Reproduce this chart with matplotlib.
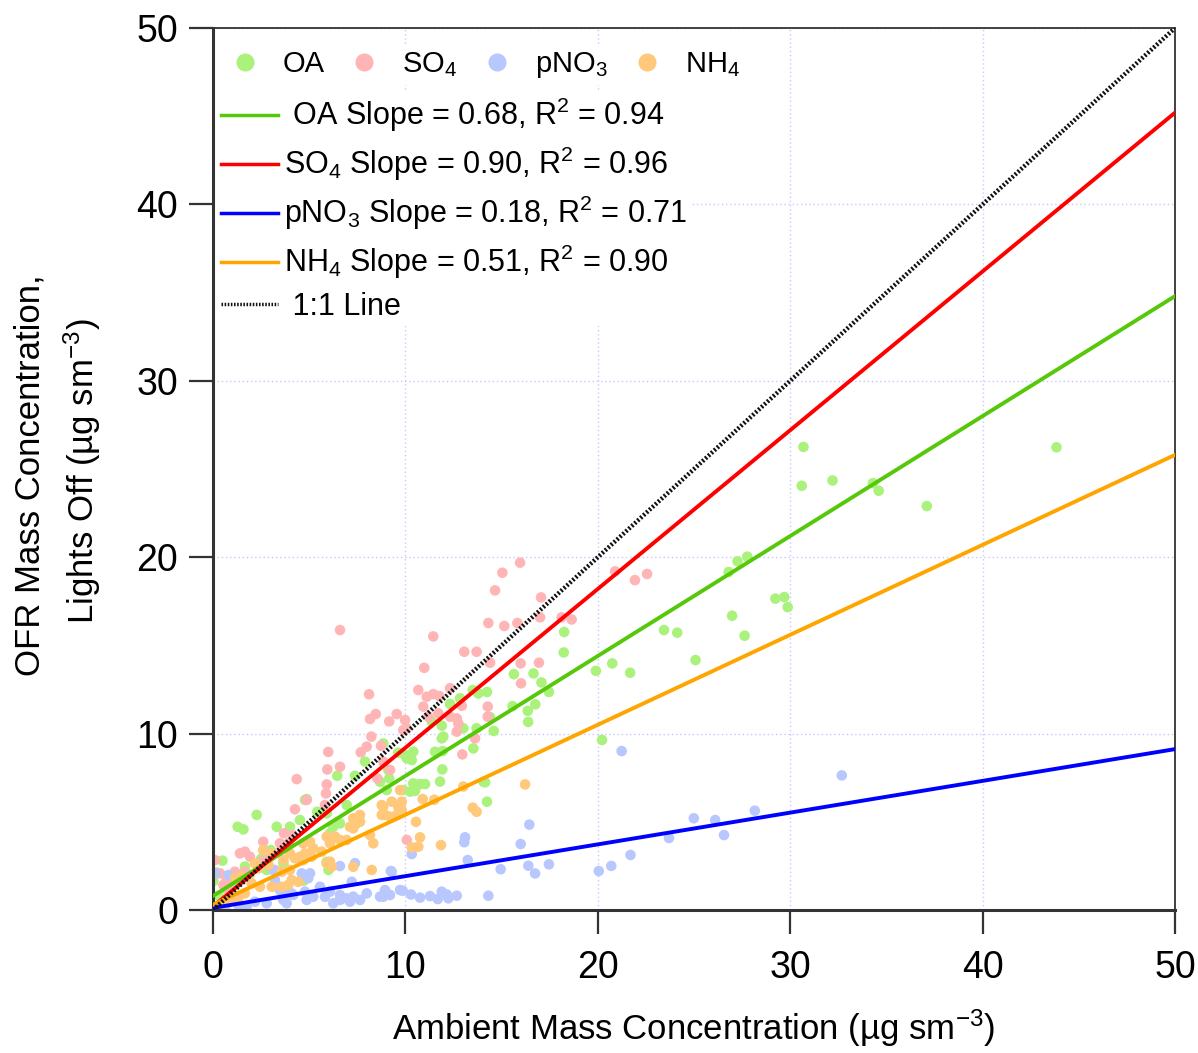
import numpy as np
import matplotlib
matplotlib.use('Agg')
import matplotlib.pyplot as plt
from matplotlib.lines import Line2D

plt.rcParams['font.family'] = ['Liberation Sans', 'DejaVu Sans']
plt.rcParams['mathtext.fontset'] = 'custom'
plt.rcParams['mathtext.rm'] = 'Liberation Sans'
plt.rcParams['mathtext.it'] = 'Liberation Sans:italic'
plt.rcParams['mathtext.bf'] = 'Liberation Sans:bold'

# ambient (x) vs OFR lights off (y), ug/m3
oa_x = [43.84, 30.69, 30.6, 32.2, 34.3, 34.6, 37.1, 26.8, 27.26, 27.77, 29.23, 29.69, 29.87,
	26.98, 27.63, 23.44, 24.13, 25.08, 18.25, 18.23, 19.9, 20.75, 21.68, 20.22, 15.64, 16.66,
	17.07, 17.46, 14.24, 14.39, 14.59, 15.57, 16.36, 16.38, 16.75, 14.06, 14.24, 13.79, 13.5,
	12.32, 12.84, 13.01, 13.7, 11.89, 11.37, 11.97, 11.89, 11.54, 11.94, 13.53, 10.07, 10.33,
	11.8, 11.92, 10.41, 10.76, 11.02, 10.24, 10.5, 14.14, 9.98, 8.85, 9.16, 8.68, 7.9, 7.38,
	6.46, 9.11, 9.89, 9.03, 4.87, 5.42, 5.91, 2.27, 1.28, 1.58, 3.31, 4.0, 4.78, 6.95, 7.47,
	6.25, 6.6, 6.08, 4.52, 3.66, 1.66, 0.49, 0.19, 0.02, 4.71, 5.91, 6.0, 2.79, 3.66, 9.63,
	10.41, 3.0, 2.5, 1.9, 1.2, 0.7, 0.3]
oa_y = [26.23, 26.25, 24.05, 24.35, 24.2, 23.77, 22.9, 19.16, 19.77, 20.03, 17.65, 17.74, 17.17,
	16.68, 15.55, 15.87, 15.72, 14.17, 15.76, 14.6, 13.56, 13.98, 13.45, 9.64, 13.37, 13.41,
	12.9, 12.36, 12.36, 10.94, 10.15, 11.56, 11.29, 10.66, 11.66, 7.27, 6.14, 12.28, 12.47,
	11.68, 12.0, 10.3, 10.3, 10.45, 10.68, 9.83, 9.73, 8.97, 9.01, 9.16, 8.6, 8.5,
	7.28, 7.97, 7.18, 7.14, 7.14, 6.71, 6.75, 7.24, 8.79, 9.44, 7.46, 7.27, 8.41, 7.61,
	7.61, 7.94, 6.8, 6.8, 6.29, 5.57, 5.48, 5.39, 4.72, 4.57, 4.72, 4.72, 6.24, 5.95, 4.91,
	4.72, 4.91, 4.35, 5.1, 3.5, 2.46, 2.8, 2.12, 1.64, 1.66, 2.73, 2.27, 2.27, 2.65, 8.92,
	8.98, 3.4, 2.9, 2.0, 1.5, 1.2, 0.8]

so4_x = [15.96, 15.04, 14.66, 17.05, 6.6, 11.45, 14.31, 15.14, 15.82, 17.0, 18.12, 18.64, 13.06,
	13.7, 10.98, 14.4, 15.99, 16.94, 16.01, 20.9, 21.93, 22.56, 10.67, 11.11, 11.45, 11.76,
	12.32, 10.93, 11.19, 11.71, 12.32, 12.67, 12.75, 12.67, 14.28, 14.28, 9.98, 10.07, 12.93,
	13.62, 12.96, 8.11, 8.16, 8.46, 9.55, 9.16, 9.89, 8.23, 7.68, 7.99, 8.73, 5.99, 5.94, 6.6,
	5.91, 5.87, 8.54, 8.85, 9.2, 4.35, 4.26, 4.87, 5.82, 10.07, 3.69, 4.14, 3.48, 3.91, 1.4,
	1.66, 0.1, 2.61, 1.14, 1.66, 3.22, 0.54, 0.8, 3.45, 0.36, 0.71, 1.92, 2.53, 2.96]
so4_y = [19.69, 19.12, 18.12, 17.72, 15.87, 15.51, 16.27, 16.1, 16.27, 16.59, 16.59, 16.47, 14.64,
	14.64, 13.73, 14.02, 13.98, 14.02, 12.85, 19.2, 18.7, 19.05, 12.47, 12.09, 12.24, 12.13,
	12.57, 11.53, 10.96, 11.15, 10.96, 10.86, 10.58, 10.11, 11.53, 10.96, 10.77, 10.3, 11.58,
	9.73, 8.82, 12.23, 10.83, 11.11, 11.11, 10.69, 10.2, 9.83, 8.94, 9.26, 9.31, 8.96, 7.97, 8.12,
	7.12, 6.61, 7.46, 8.41, 7.94, 7.42, 5.71, 6.24, 5.95, 3.97, 4.35, 4.25, 3.78, 3.78, 3.21,
	3.31, 2.83, 3.87, 2.17, 2.17, 2.27, 1.42, 1.13, 1.23, 2.08, 1.7, 3.02, 2.74, 3.02]

pno3_x = [21.24, 32.68, 28.16, 24.99, 26.1, 26.56, 23.7, 21.7, 20.7, 20.05, 16.44, 15.99, 13.1,
	13.06, 13.24, 10.33, 14.95, 16.39, 16.74, 17.46, 9.86, 10.29, 10.76, 11.28, 11.68, 11.89,
	12.15, 12.23, 12.67, 14.31, 9.03, 8.68, 7.99, 7.64, 7.12, 6.6, 6.25, 7.29, 6.95, 9.29, 7.38,
	6.6, 5.04, 4.69, 5.56, 6.08, 5.82, 6.6, 7.21, 9.24, 9.72, 8.85, 8.94, 9.2, 5.21, 4.87, 4.17,
	4.78, 3.65, 3.83, 2.18, 2.79, 1.32, 1.75, 0.62, 3.22, 3.48, 4.61, 4.95, 0.1, 0.8, 3.13,
	3.66, 3.31, 4.09]
pno3_y = [9.01, 7.63, 5.63, 5.2, 5.1, 4.25, 4.08, 3.12, 2.5, 2.21, 4.84, 3.74, 4.12,
	3.84, 2.83, 3.17, 2.31, 2.51, 2.07, 2.59, 1.09, 0.88, 0.7, 0.79, 0.62, 1.04,
	0.88, 0.66, 0.81, 0.81, 0.94, 0.76, 0.94, 0.57, 0.47, 0.57, 0.38, 0.76, 0.66, 2.17, 2.65,
	2.49, 2.08, 1.98, 1.32, 1.04, 0.75, 0.85, 1.6, 2.21, 1.13, 0.75, 1.13, 0.85, 0.75, 0.57, 0.85,
	1.04, 0.57, 0.38, 0.47, 0.38, 0.28, 0.19, 0.1, 1.7, 1.13, 2.08, 1.8, 2.08, 1.98, 2.27,
	1.13, 1.32, 0.94]

nh4_x = [16.22, 13.5, 13.7, 13.01, 10.9, 11.5, 10.55, 10.76, 10.33, 10.67, 11.85, 9.81, 9.81,
	9.72, 9.63, 8.85, 8.77, 9.2, 9.55, 8.77, 9.29, 8.94, 7.64, 7.29, 7.12, 7.29, 8.16, 5.91,
	6.25, 6.6, 6.08, 5.04, 5.21, 4.78, 5.13, 5.65, 6.17, 7.29, 8.25, 7.64, 8.33, 6.34, 6.95,
	4.69, 4.52, 4.0, 3.66, 2.61, 3.05, 2.88, 3.57, 4.0, 4.09, 1.66, 1.32, 0.88, 0.54, 0.19,
	0.0, 4.26, 4.69, 5.04, 2.18, 2.36, 1.14, 1.49, 2.01, 2.44, 3.05, 3.57, 3.91, 4.43, 5.9, 6.08]
nh4_y = [7.12, 5.8, 5.57, 7.0, 6.29, 6.25, 5.0, 4.12, 3.55, 3.59, 3.68, 6.14, 5.67,
	6.8, 5.86, 5.86, 5.39, 5.29, 5.39, 5.95, 6.14, 5.39, 5.39, 5.2, 4.72, 4.63, 4.25, 4.16,
	4.06, 3.97, 3.78, 3.87, 3.5, 3.21, 3.02, 3.31, 2.45, 2.45, 2.27, 5.0, 3.78, 4.16, 3.97,
	3.78, 3.02, 3.21, 2.83, 3.4, 3.21, 2.55, 2.17, 2.27, 1.7, 0.95, 0.72, 0.57, 0.38, 0.19,
	0.1, 2.93, 2.83, 3.12, 2.64, 2.36, 1.8, 1.89, 1.51, 1.32, 1.32, 1.32, 1.42, 1.6, 2.65, 2.74]

species = ['OA', 'SO$_4$', 'pNO$_3$', 'NH$_4$']
slopes = [0.68, 0.90, 0.18, 0.51]
intercepts = [0.8, 0.2, 0.12, 0.3]
r2 = [0.94, 0.96, 0.71, 0.90]
dot_colors = ['#aaf27c', '#ffb5b5', '#b8c8ff', '#ffc87a']
line_colors = ['#55c80a', '#ff0000', '#0000ff', '#ffa500']

fig = plt.figure(figsize=(11.98, 10.53), dpi=100)
ax = fig.add_axes([0.1778, 0.1358, 0.803, 0.8376])

ax.set_xlim(0, 50)
ax.set_ylim(0, 50)
ax.set_xticks([0, 10, 20, 30, 40, 50])
ax.set_yticks([0, 10, 20, 30, 40, 50])
ax.grid(True, color='#c8c8ff', linestyle=(0, (1, 2)), linewidth=1.0)
ax.set_axisbelow(True)

xs = [oa_x, so4_x, pno3_x, nh4_x]
ys = [oa_y, so4_y, pno3_y, nh4_y]
for i in range(4):
	ax.scatter(xs[i], ys[i], s=58, color=dot_colors[i], edgecolors='none', zorder=2)

xx = np.array([0, 50])
fit_lines = []
for i in range(4):
	l, = ax.plot(xx, slopes[i] * xx + intercepts[i], color=line_colors[i], lw=2.8, zorder=3)
	fit_lines.append(l)
one, = ax.plot(xx, xx, color='#111111', lw=3.2, linestyle=(0, (0.45, 0.45)), zorder=4)

for s in ['left', 'bottom']:
	ax.spines[s].set_linewidth(2.2)
	ax.spines[s].set_color('#333333')
for s in ['top', 'right']:
	ax.spines[s].set_linewidth(1.3)
	ax.spines[s].set_color('#333333')
ax.tick_params(axis='both', direction='out', length=17, width=1.6, color='#333333',
	labelsize=27, top=False, right=False)
ax.tick_params(axis='y', pad=8)
ax.tick_params(axis='x', pad=12)

# legend: dots in a row, then fit lines
dot_handles = [Line2D([], [], marker='o', ls='none', markersize=13, markerfacecolor=c,
	markeredgecolor='none') for c in dot_colors]
leg1 = ax.legend(dot_handles, species, ncol=4, loc='upper left', bbox_to_anchor=(-0.0015, 0.996),
	fontsize=21, frameon=True, framealpha=1, facecolor='white', edgecolor='none',
	handletextpad=0.8, columnspacing=0.85, borderpad=0.15, handlelength=1.0)
ax.add_artist(leg1)

labels = []
for i in range(4):
	lead = ' ' if i == 0 else ''
	labels.append(lead + species[i] + ' Slope = %.2f, R$^2$ = %.2f' % (slopes[i], r2[i]))
labels.append(' 1:1 Line')
leg2 = ax.legend(fit_lines + [one], labels, loc='upper left', bbox_to_anchor=(0.004, 0.927),
	borderaxespad=0, fontsize=22, frameon=True, framealpha=1, facecolor='white', edgecolor='none',
	handlelength=1.87, handletextpad=0.2, labelspacing=0.35, borderpad=0.12)
for h in leg2.get_lines():
	h.set_linewidth(2.5)

ax.set_xlabel('Ambient Mass Concentration (µg sm$^{-3}$)', fontsize=25, labelpad=15)
fig.text(0.025, 0.549, 'OFR Mass Concentration,', rotation=90, fontsize=25, ha='center', va='center')
fig.text(0.069, 0.553, 'Lights Off (µg sm$^{-3}$)', rotation=90, fontsize=25, ha='center', va='center')

fig.savefig('out.png', dpi=100)
